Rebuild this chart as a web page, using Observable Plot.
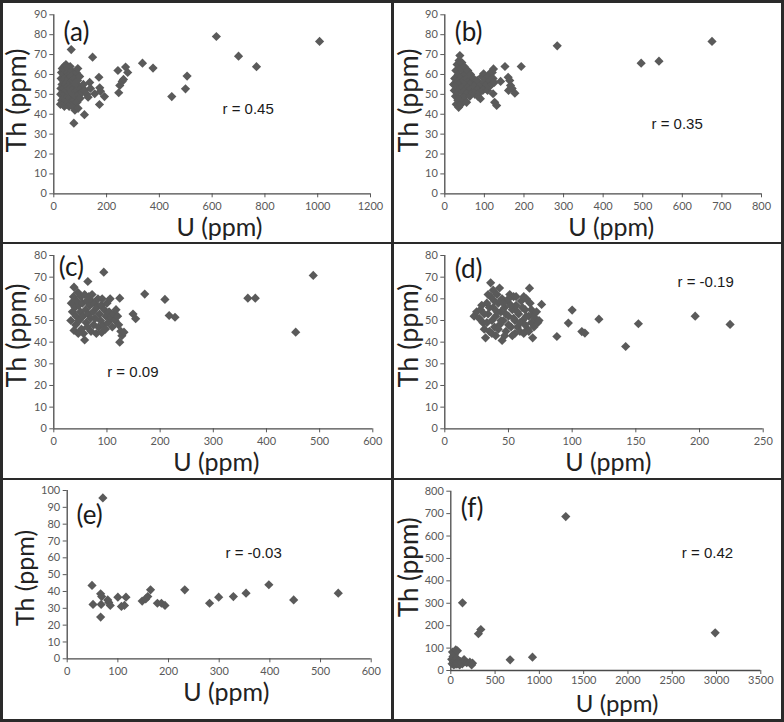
<!DOCTYPE html>
<html><head><meta charset="utf-8">
<script src="https://cdn.jsdelivr.net/npm/d3@7"></script>
<script src="https://cdn.jsdelivr.net/npm/@observablehq/plot@0.6"></script>
<style>
html,body{margin:0;padding:0;background:#fff;}
#wrap{position:relative;width:784px;height:722px;overflow:hidden;background:#fff;}
.cell{position:absolute;}
.cell svg{display:block;}
.ln{position:absolute;background:#2a2a2a;z-index:5;}
</style></head><body><div id="wrap"></div>
<script>
// ---------- data ----------
const panelTags = ["(a)", "(b)", "(c)", "(d)", "(e)", "(f)"];
const rLabels = ["r = 0.45", "r = 0.35", "r = 0.09", "r = -0.19", "r = -0.03", "r = 0.42"];
const xTitle = "U (ppm)";
const yTitle = "Th (ppm)";

const xTicksA = [0, 200, 400, 600, 800, 1000, 1200];
const xTicksB = [0, 100, 200, 300, 400, 500, 600, 700, 800];
const xTicksC = [0, 100, 200, 300, 400, 500, 600];
const xTicksD = [0, 50, 100, 150, 200, 250];
const xTicksE = [0, 100, 200, 300, 400, 500, 600];
const xTicksF = [0, 500, 1000, 1500, 2000, 2500, 3000, 3500];
const yTicksAB = [0, 10, 20, 30, 40, 50, 60, 70, 80, 90];
const yTicksCD = [0, 10, 20, 30, 40, 50, 60, 70, 80];
const yTicksE = [0, 10, 20, 30, 40, 50, 60, 70, 80, 90, 100];
const yTicksF = [0, 100, 200, 300, 400, 500, 600, 700, 800];

// [U, Th] pairs
const ptsA = [[25,45],[26,50],[27,53],[28,58],[29,61],[30,47],[31,55],[32,63],[33,51],[34,45],[35,57],[36,60],[37,48],[38,53],[39,64],[40,44],[41,58],[42,50],[43,62],[44,55],[45,47],[46,65],[47,52],[48,59],[49,45],[50,56],[51,61],[52,49],[53,54],[54,63],[55,46],[56,58],[57,51],[58,44],[59,60],[60,53],[61,48],[62,64],[63,56],[64,45],[65,59],[66,51],[67,62],[68,47],[69,54],[70,57],[72,44],[73,60],[74,50],[75,53],[77,47],[78,58],[80,42],[81,55],[83,49],[85,61],[86,52],[88,46],[90,57],[91,63],[92,43],[94,50],[96,54],[98,59],[100,48],[103,53],[107,51],[112,55],[118,52],[125,50],
  [66,72.5],[76,35.5],[116,39.8],[130,48.6],[136,56],[139,53],[147,68.7],[155,50.3],[171,58.6],[173,44.9],[174,53.3],[177,51.5],[192,48.9],[243,62],[246,50.8],[250,54.5],[259,56.5],[264,57.5],[272,63.7],[280,61],[336,65.7],[376,63.2],[447,48.9],[499,52.8],[505,59.2],[616,79.1],[700,69.2],[768,63.9],[1007,76.6]];
const ptsB = [[22,55],[24,52],[25,58],[27,49],[28,62],[29,45],[30,55],[31,65],[32,51],[33,47],[34,60],[35,43.5],[35,57],[36,67],[37,53],[38,69.5],[38,48],[39,63],[40,56],[41,45],[42,59],[43,66],[44,51],[45,54],[46,62],[47,47],[48,57],[49,64],[50,52],[51,49],[52,60],[54,55],[55,46],[56,58],[58,62],[59,51],[60,54],[62,57],[63,49],[65,60],[66,53],[68,56],[70,51],[72,58],[74,54],[76,50],[78,55],[80,52],[82,57],[84,49],[86,53],[88,51],[90,47.8],[92,55],[94,59],[96,52],[98,60.3],[100,56],[102,53],[104,58],[106,55],[108,52],[110,59],[112,54],[114,57],[116,61],[118,55],[120,61],[122,58],[123,62.8],[125,56],
  [122,50.3],[126,46],[131,44.4],[141,56.5],[152,64],[160,58.6],[161,52],[164,57],[166,54.5],[170,53],[177,50.6],[193,64],[284,74.4],[496,65.7],[541,66.7],[675,76.6]];
const ptsC = [[32,50],[33,58],[35,54],[37,61],[38,65.4],[38,45.4],[40,56],[41,48],[42,52],[43,59],[45,63],[46,44],[47,57],[48,50],[50,54],[51,61],[52,46],[54,58],[55,52],[56,44],[58,41],[58,62],[60,55],[61,49],[62,59],[63,47],[64,68],[65,53],[66,61],[68,57],[69,51],[70,45],[71,59],[72,62],[74,54],[75,48],[77,58],[78,51],[80,44],[81,56],[83,60],[84,47],[86,53],[88,50],[89,57],[90,44.5],[91,60],[93,48],[94,72.3],[95,55],[97,46],[98,52],[100,58],[102,49],[104,54],[106,60],[108,51],[110,47],[112,53],[115,50],[117,55],[120,52],[122,48],[124,60.3],[124,40],[126,45],[128,43],[132,44.6],
  [149,53],[154,50.8],[171,62.2],[209,59.7],[217,52.3],[228,51.5],[365,60.3],[379,60.3],[455,44.6],[488,70.8]];
const ptsD = [[23,52],[25,54],[27,51],[28,55],[30,49],[31,46],[32,42],[33,58],[34,53],[35,45],[36,67.4],[36,61],[37,50],[38,64],[38,56],[39,47],[40,43],[40,52],[41,62],[42,58],[43,48],[44,54],[45,40.8],[45,60],[46,50],[47,56],[48,45],[49,59],[50,52],[51,62],[52,47],[53,55],[54,61],[55,44],[55,50],[56,57],[57,47],[58,53],[59,45],[60,59],[61,50],[62,44],[63,55],[64,60],[65,46],[66,52],[66.5,64.9],[67,58],[68,49],[69,42],[70,53],[71,51],[73,49],[76,57.4],
  [29,57],[31,53],[33,49],[34,62],[35,56],[37,44],[39,59],[41,54],[42,46],[43,65],[44,50],[46,58],[47,43],[48,53],[50,60],[50,48],[52,57],[53,43],[54,51],[56,61],[57,54],[59,49],[61,56],[62,61],[63,48],[64,52],[66,45],[68,55],[70,47],[72,54],[74,50],
  [88,42.6],[97,48.8],[100,54.8],[107.6,44.9],[110,44.2],[121,50.6],[142,38],[152,48.5],[196.6,52],[224,48.2]];
const ptsE = [[49,43.6],[51,32.3],[66,38.6],[67,32.3],[66,24.8],[68,37],[80,35],[82,33.5],[85,31.7],[100,36.6],[107,31.1],[113,31.7],[116,36.6],[148,34.3],[155,35.6],[159,37],[164.5,41],[178,33],[186,33],[193,31.7],[232,41],[281,33],[299,36.6],[328,37],[353,39],[398,44],[447,35],[535,39],[70.4,95.6]];
const ptsF = [[10,50],[15,30],[19,82],[25,62],[30,40],[35,25],[40,70],[45,35],[50,45],[56,92],[60,28],[65,55],[70,38],[75,88],[80,30],[90,42],[94,34],[100,25],[110,40],[120,35],[130,30],[150,49],[160,40],[180,35],[215,37],[245,32.7],[235,25],
  [132,302],[312,164],[339,183],[670,47.6],[922,59.5],[1298,687],[2985,168]];

// ---------- layout (absolute page px) ----------
const panels = [
  {pts: ptsA, xd: 1200, yd: 90, xt: xTicksA, yt: yTicksAB, cell: [0, 0, 392, 243], frame: [53.3, 370, 14.3, 193.3], tag: [63, 40.5], r: [222, 113], th: [16.5, 100], thSize: 27, u: [219, 235], uSize: 25, xPad: 4},
  {pts: ptsB, xd: 800, yd: 90, xt: xTicksB, yt: yTicksAB, cell: [392, 0, 392, 243], frame: [444.3, 761, 14.3, 193.3], tag: [454.3, 40.7], r: [651, 128.3], th: [408.7, 100], thSize: 27, u: [610.7, 235], uSize: 25, xPad: 4},
  {pts: ptsC, xd: 600, yd: 80, xt: xTicksC, yt: yTicksCD, cell: [0, 243, 392, 236], frame: [53.3, 372.3, 255, 428.3], tag: [58.3, 275.7], r: [106.7, 376.7], th: [16.7, 335], thSize: 27, u: [215.8, 470], uSize: 25, xPad: 4},
  {pts: ptsD, xd: 250, yd: 80, xt: xTicksD, yt: yTicksCD, cell: [392, 243, 392, 236], frame: [444.3, 762.7, 255, 428.3], tag: [454.3, 277], r: [677, 286.7], th: [408.7, 335], thSize: 27, u: [607.8, 470], uSize: 25, xPad: 4},
  {pts: ptsE, xd: 600, yd: 100, xt: xTicksE, yt: yTicksE, cell: [0, 479, 392, 243], frame: [66.7, 370.7, 490, 658.3], tag: [76, 523.3], r: [225, 557.3], th: [26, 577.5], thSize: 25, u: [225.8, 700], uSize: 25, xPad: 4},
  {pts: ptsF, xd: 3500, yd: 800, xt: xTicksF, yt: yTicksF, cell: [392, 479, 392, 243], frame: [450.3, 760.3, 490.7, 670], tag: [460.3, 516.7], r: [681.3, 557.3], th: [409.5, 566.7], thSize: 26, u: [616.7, 711], uSize: 24, xPad: 2}
];

const diamond = {
  draw(ctx, size) {
    const h = Math.sqrt(size / Math.PI);
    ctx.moveTo(0, -h); ctx.lineTo(h, 0); ctx.lineTo(0, h); ctx.lineTo(-h, 0); ctx.closePath();
  }
};

const wrap = document.getElementById("wrap");

panels.forEach((p, i) => {
  const [cx, cy, cw, ch] = p.cell;
  const [fl, fr, ft, fb] = p.frame;
  const T = (str, pos, o) => Plot.text([str], {
    text: d => d, frameAnchor: "top-left",
    dx: pos[0] - fl, dy: pos[1] - ft, ...o
  });
  const chart = Plot.plot({
    width: cw, height: ch,
    marginLeft: fl - cx, marginRight: cx + cw - fr,
    marginTop: ft - cy, marginBottom: cy + ch - fb,
    x: {domain: [0, p.xd], ticks: p.xt, tickFormat: "d", tickSize: 4, tickPadding: p.xPad, label: null},
    y: {domain: [0, p.yd], ticks: p.yt, tickFormat: "d", tickSize: 4, tickPadding: 3, label: null},
    style: {fontFamily: "Lato, 'Open Sans', sans-serif", fontSize: "11px", color: "#595959", background: "transparent", overflow: "visible"},
    marks: [
      Plot.ruleX([0], {stroke: "#4a4a4a", strokeWidth: 1.3}),
      Plot.ruleY([0], {stroke: "#4a4a4a", strokeWidth: 1.3}),
      Plot.dot(p.pts, {x: d => d[0], y: d => d[1], symbol: diamond, r: 4.6, fill: "#5a5a5a", stroke: "none"}),
      T(panelTags[i], p.tag, {textAnchor: "start", lineAnchor: "bottom", fontSize: 26, fill: "#1a1a1a", fontFamily: "Lato, sans-serif"}),
      T(rLabels[i], p.r, {textAnchor: "start", lineAnchor: "bottom", fontSize: 15, fill: "#1a1a1a", fontFamily: "'Liberation Sans', Arial, sans-serif"}),
      T(yTitle, p.th, {textAnchor: "middle", lineAnchor: "middle", rotate: -90, fontSize: p.thSize, fill: "#222", fontFamily: "Lato, sans-serif"}),
      T(xTitle, p.u, {textAnchor: "middle", lineAnchor: "bottom", fontSize: p.uSize, fill: "#222", fontFamily: "Lato, sans-serif"})
    ]
  });
  const div = document.createElement("div");
  div.className = "cell";
  div.style.left = cx + "px"; div.style.top = cy + "px";
  div.style.width = cw + "px"; div.style.height = ch + "px";
  div.appendChild(chart);
  wrap.appendChild(div);
});

// panel frame lines
const lines = [
  [0, 0, 784, 2.6], [0, 241.6, 784, 2.8], [0, 477.7, 784, 2.8], [0, 719.2, 784, 2.8],
  [0, 0, 2.6, 722], [390.8, 0, 2.8, 722], [781.3, 0, 2.7, 722]
];
lines.forEach(([x, y, w, h]) => {
  const d = document.createElement("div");
  d.className = "ln";
  d.style.left = x + "px"; d.style.top = y + "px";
  d.style.width = w + "px"; d.style.height = h + "px";
  wrap.appendChild(d);
});
</script></body></html>
